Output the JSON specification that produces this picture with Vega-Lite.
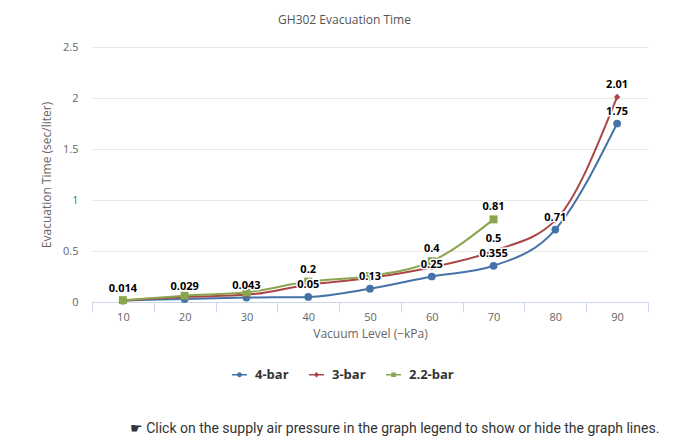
{
  "$schema": "https://vega.github.io/schema/vega-lite/v6.json",
  "padding": {"top": 14, "left": 40, "right": 36, "bottom": 8},
  "background": "white",
  "config": {"view": {"stroke": null}, "font": "Open Sans"},
  "title": {"text": "☛ Click on the supply air pressure in the graph legend to show or hide the graph lines.", "orient": "bottom", "anchor": "middle", "font": "Roboto", "fontSize": 14, "fontWeight": "normal", "color": "#333333", "offset": 40, "dx": 50},
  "vconcat": [
    {
      "title": {"text": "GH302 Evacuation Time", "anchor": "middle", "frame": "bounds", "font": "Open Sans", "fontSize": 12, "fontWeight": "normal", "color": "#555555", "offset": 14},
      "width": 556,
      "height": 255,
      "data": {"values": [
        {"kpa": 10, "series": "4-bar", "time": 0.014, "label": "0.014"},
        {"kpa": 20, "series": "4-bar", "time": 0.029, "label": "0.029"},
        {"kpa": 30, "series": "4-bar", "time": 0.043, "label": "0.043"},
        {"kpa": 40, "series": "4-bar", "time": 0.05, "label": "0.05"},
        {"kpa": 50, "series": "4-bar", "time": 0.13, "label": "0.13"},
        {"kpa": 60, "series": "4-bar", "time": 0.25, "label": "0.25"},
        {"kpa": 70, "series": "4-bar", "time": 0.355, "label": "0.355"},
        {"kpa": 80, "series": "4-bar", "time": 0.71, "label": "0.71"},
        {"kpa": 90, "series": "4-bar", "time": 1.75, "label": "1.75"},
        {"kpa": 10, "series": "3-bar", "time": 0.015, "label": null},
        {"kpa": 20, "series": "3-bar", "time": 0.05, "label": null},
        {"kpa": 30, "series": "3-bar", "time": 0.07, "label": null},
        {"kpa": 40, "series": "3-bar", "time": 0.17, "label": null},
        {"kpa": 50, "series": "3-bar", "time": 0.235, "label": null},
        {"kpa": 60, "series": "3-bar", "time": 0.34, "label": null},
        {"kpa": 70, "series": "3-bar", "time": 0.5, "label": "0.5"},
        {"kpa": 80, "series": "3-bar", "time": 0.8, "label": null},
        {"kpa": 90, "series": "3-bar", "time": 2.01, "label": "2.01"},
        {"kpa": 10, "series": "2.2-bar", "time": 0.018, "label": null},
        {"kpa": 20, "series": "2.2-bar", "time": 0.062, "label": null},
        {"kpa": 30, "series": "2.2-bar", "time": 0.095, "label": null},
        {"kpa": 40, "series": "2.2-bar", "time": 0.2, "label": "0.2"},
        {"kpa": 50, "series": "2.2-bar", "time": 0.255, "label": null},
        {"kpa": 60, "series": "2.2-bar", "time": 0.4, "label": "0.4"},
        {"kpa": 70, "series": "2.2-bar", "time": 0.81, "label": "0.81"}
      ]},
      "encoding": {
        "x": {"field": "kpa", "type": "ordinal", "scale": {"type": "band", "paddingInner": 0, "paddingOuter": 0},
          "axis": {"title": "Vacuum Level (−kPa)", "labelAngle": 0, "tickBand": "extent", "domainColor": "#ccd6eb", "tickColor": "#ccd6eb", "tickSize": 10, "labelPadding": -1, "labelColor": "#666666", "labelFontSize": 11, "labelFont": "Open Sans", "titleColor": "#666666", "titleFontSize": 12, "titleFont": "Open Sans", "titleFontWeight": "normal", "titlePadding": 6, "grid": false}},
        "y": {"field": "time", "type": "quantitative", "scale": {"domain": [0, 2.5]},
          "axis": {"title": "Evacuation Time (sec/liter)", "values": [0, 0.5, 1, 1.5, 2, 2.5], "format": ".1~f", "domain": false, "ticks": false, "labelPadding": 14, "gridColor": "#e6e6e6", "labelColor": "#666666", "labelFontSize": 11, "labelFont": "Open Sans", "titleColor": "#666666", "titleFontSize": 12, "titleFont": "Open Sans", "titleFontWeight": "normal", "titlePadding": 9}},
        "color": {"field": "series", "type": "nominal", "sort": ["4-bar", "3-bar", "2.2-bar"],
          "scale": {"domain": ["4-bar", "3-bar", "2.2-bar"], "range": ["#4572A7", "#AA4643", "#89A54E"]},
          "legend": {"title": null, "orient": "none", "legendX": 140, "legendY": 320, "direction": "horizontal", "labelFontWeight": "bold", "labelFontSize": 13, "labelColor": "#333333", "labelFont": "Open Sans", "labelOffset": 8, "columnPadding": 20, "symbolSize": 225, "symbolStrokeWidth": 0,
            "symbolType": "M-1,-0.09H1V0.09H-1Z M-0.33,0A0.33,0.33 0 1,1 0.33,0A0.33,0.33 0 1,1 -0.33,0Z",
            "encode": {"symbols": {"update": {"shape": {"signal": "datum.value === '4-bar' ? 'M-1,-0.09H1V0.09H-1Z M-0.33,0A0.33,0.33 0 1,1 0.33,0A0.33,0.33 0 1,1 -0.33,0Z' : datum.value === '3-bar' ? 'M-1,-0.09H1V0.09H-1Z M0,-0.36L0.36,0L0,0.36L-0.36,0Z' : 'M-1,-0.09H1V0.09H-1Z M-0.3,-0.3H0.3V0.3H-0.3Z'"}, "size": {"value": 225}, "strokeWidth": {"value": 0}, "opacity": {"value": 1}}}}}}
      },
      "layer": [
        {"mark": {"type": "line", "interpolate": "monotone", "strokeWidth": 2}},
        {"mark": {"type": "point", "filled": true, "opacity": 1},
          "encoding": {
            "shape": {"condition": [{"test": "datum.series === '3-bar'", "value": "diamond"}, {"test": "datum.series === '2.2-bar'", "value": "square"}], "value": "circle"},
            "size": {"condition": [{"test": "datum.series === '3-bar'", "value": 40}, {"test": "datum.series === '2.2-bar'", "value": 64}], "value": 60}
          }},
        {"transform": [{"filter": "datum.label != null"}],
          "mark": {"type": "text", "dy": -12, "fontWeight": "bold", "fontSize": 11, "font": "Open Sans", "stroke": "white", "strokeWidth": 3, "strokeJoin": "round", "fill": "white"},
          "encoding": {"text": {"field": "label"}, "color": {"value": "white"}}},
        {"transform": [{"filter": "datum.label != null"}],
          "mark": {"type": "text", "dy": -12, "fontWeight": "bold", "fontSize": 11, "font": "Open Sans"},
          "encoding": {"text": {"field": "label"}, "color": {"value": "#000000"}}}
      ]
    }
  ]
}
